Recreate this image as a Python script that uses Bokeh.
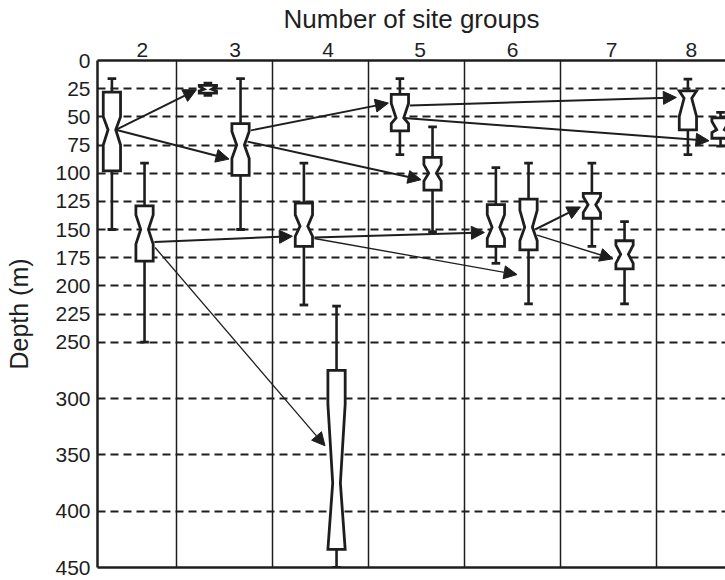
from bokeh.plotting import figure
from bokeh.models import Range1d, FixedTicker, LinearAxis, Arrow, NormalHead, ColumnDataSource
from bokeh.embed import file_html
from bokeh.resources import INLINE

# ---------------- data ----------------
group_labels = ["2", "3", "4", "5", "6", "7", "8"]
depth_ticks = [0, 25, 50, 75, 100, 125, 150, 175, 200, 225, 250, 300, 350, 400, 450]
grid_depths = [25, 50, 75, 100, 125, 150, 175, 200, 225, 250, 300, 350, 400]

box_names = ["A", "B", "C", "D", "E", "F", "G", "H", "I", "J", "K", "L", "M", "N"]
box_group = [2, 2, 3, 3, 4, 4, 5, 5, 6, 6, 7, 7, 8, 8]
box_side = [-1, 1, -1, 1, -1, 1, -1, 1, -1, 1, -1, 1, -1, 1]
whisker_top = [16, 91, 20, 16, 91, 218, 16, 59, 95, 91, 91, 143, 16.5, 46]
q1 = [28, 129, 22, 56, 126.5, 275, 30, 86, 128, 123, 118, 160, 27, 51]
notch_top = [50, 137, 23, 63, 137, 305, 38, 92.5, 137, 133, 121, 164, 27, 54]
median = [61.5, 150, 25.5, 75, 147, 375, 51, 100, 148, 148, 128, 172, 33.5, 61.5]
notch_bottom = [75, 163, 27, 87, 156, 434, 56, 107, 158, 160, 135, 180, 49.6, 64]
q3 = [98, 178, 29, 102, 165, 434, 62.4, 115, 165, 168, 140, 185, 61.5, 69]
whisker_bottom = [150, 250, 31, 150, 217, 450, 83.6, 152, 180, 216, 165, 216, 83.6, 76]

arrow_from = ["A", "A", "B", "B", "D", "D", "E", "E", "G", "G", "J", "J"]
arrow_to = ["C", "D", "E", "F", "G", "H", "I", "J", "M", "N", "K", "L"]
arrow_start_depth = [61.5, 61.5, 161, 166, 62, 72, 157, 158, 40, 51, 150, 155]
arrow_end_depth = [26, 87.5, 156, 342, 37.8, 105.8, 152.6, 190, 32.8, 71.2, 130, 176]

# ---------------- layout / style ----------------
INK = "#1e1e1e"
FONT = "Liberation Sans"
SLOT = 0.17          # offset of the two boxes within a column
HW = 0.09            # box half width (x units)
NW = 0.04            # notch half width
CAP = 0.045          # whisker cap half width
label_pos = [2.146, 3.112, 4.081, 5.041, 6.005, 7.034, 7.866]
arrow_widths = [2, 2, 2, 1.3, 1.8, 2, 2, 1.3, 2, 2, 2, 1.5]

p = figure(width=725, height=580, output_backend="svg", toolbar_location=None,
           x_range=Range1d(1.68, 1.68 + 628 / 96.0), y_range=Range1d(450, 0),
           x_axis_location="above", min_border_left=97, min_border_right=0,
           min_border_top=59, min_border_bottom=13)
p.outline_line_color = None
p.background_fill_color = "white"
p.border_fill_color = "white"

# axes
xa = p.xaxis[0]
xa.ticker = FixedTicker(ticks=label_pos)
xa.major_label_overrides = {pos: lab for pos, lab in zip(label_pos, group_labels)}
xa.axis_label = "Number of site groups"
for ax in (xa, p.yaxis[0]):
    ax.axis_label_text_font = FONT
    ax.axis_label_text_font_size = "26px"
    ax.axis_label_text_font_style = "normal"
    ax.axis_label_text_color = INK
    ax.major_label_text_font = FONT
    ax.major_label_text_font_size = "21px"
    ax.major_label_text_color = INK
    ax.major_tick_out = 0
    ax.major_tick_in = 0
    ax.minor_tick_line_color = None
    ax.major_tick_line_color = None
    ax.axis_line_width = 2.5
    ax.axis_line_color = INK
xa.major_label_standoff = 4
xa.axis_label_standoff = 6

ya = p.yaxis[0]
ya.ticker = FixedTicker(ticks=depth_ticks)
ya.axis_label = "Depth (m)"
ya.axis_label_text_font_size = "25px"
ya.major_label_standoff = 7
ya.axis_label_standoff = 19

bottom = LinearAxis(major_label_text_font_size="0px", major_tick_line_color=None,
                    minor_tick_line_color=None, axis_line_width=2.5, axis_line_color=INK,
                    major_label_standoff=0)
bottom.ticker = FixedTicker(ticks=[])
p.add_layout(bottom, "below")

# grids
p.ygrid.ticker = FixedTicker(ticks=grid_depths)
p.ygrid.grid_line_color = INK
p.ygrid.grid_line_width = 2
p.ygrid.grid_line_dash = "8 5"
p.xgrid.ticker = FixedTicker(ticks=[g + 0.5 for g in range(2, 8)])
p.xgrid.grid_line_color = INK
p.xgrid.grid_line_width = 1.5

# boxes
bx = [g + s * SLOT for g, s in zip(box_group, box_side)]
idx = {n: i for i, n in enumerate(box_names)}

xs, ys = [], []
for i in range(len(bx)):
    x = bx[i]
    xs.append([x - HW, x + HW, x + HW, x + NW, x + HW, x + HW,
               x - HW, x - HW, x - NW, x - HW])
    ys.append([q1[i], q1[i], notch_top[i], median[i], notch_bottom[i], q3[i],
               q3[i], notch_bottom[i], median[i], notch_top[i]])
p.patches(xs, ys, fill_color="white", line_color=INK, line_width=2.8, line_join="miter")

# whiskers and caps
p.segment(bx, whisker_top, bx, q1, line_color=INK, line_width=2.6)
p.segment(bx, q3, bx, whisker_bottom, line_color=INK, line_width=2.6)
p.segment([x - CAP for x in bx], whisker_top, [x + CAP for x in bx], whisker_top,
          line_color=INK, line_width=2.8)
p.segment([x - CAP for x in bx], whisker_bottom, [x + CAP for x in bx], whisker_bottom,
          line_color=INK, line_width=2.8)


def half_width(i, d):
    if d <= notch_top[i] or d >= notch_bottom[i]:
        return HW
    if d <= median[i]:
        f = (d - notch_top[i]) / max(median[i] - notch_top[i], 1e-9)
        return HW + (NW - HW) * f
    f = (notch_bottom[i] - d) / max(notch_bottom[i] - median[i], 1e-9)
    return HW + (NW - HW) * f


x0, x1 = [], []
for a, b, d in zip(arrow_from, arrow_to, arrow_start_depth):
    i, j = idx[a], idx[b]
    x0.append(bx[i] + half_width(i, d) + (0.0 if d == median[i] else 0.02))
    x1.append(bx[j] - HW - 0.03)
src = ColumnDataSource(dict(x0=x0, y0=arrow_start_depth, x1=x1, y1=arrow_end_depth,
                            lw=arrow_widths))
p.add_layout(Arrow(end=NormalHead(size=13, fill_color=INK, line_color=INK, line_width=1),
                   x_start="x0", y_start="y0", x_end="x1", y_end="y1",
                   line_color=INK, line_width="lw", source=src))

open("out.html", "w").write(file_html(p, INLINE))
